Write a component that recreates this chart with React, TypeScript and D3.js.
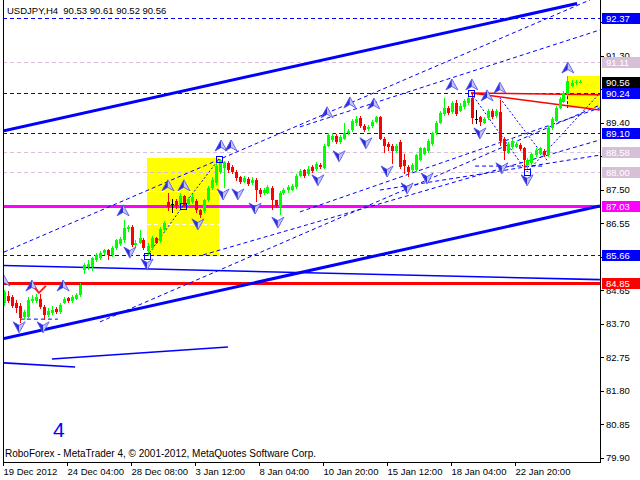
import React from "react";
import * as d3 from "d3";

// USDJPY H4 candles (bar 0 = 19 Dec 2012 00:00)
const opens = [
  84.28, 84.48, 84.45, 84.3, 84.2, 83.9, 83.9, 84.33, 84.34, 84.4, 84.18, 83.95, 84.0, 84.12, 84.02, 84.3, 84.42, 84.34, 84.4, 84.5,
  85.22, 85.3, 85.3, 85.5, 85.56, 85.7, 85.78, 85.66, 85.85, 85.95, 86.06, 86.38, 86.44, 85.92, 86.0, 86.08, 85.76, 85.85, 86.12, 86.05,
  86.35, 87.15, 87.1, 87.19, 87.05, 87.31, 87.1, 87.15, 87.18, 86.92, 86.9, 87.2, 87.56, 87.68, 88.0, 88.12, 88.25, 88.15, 88.0, 87.85,
  87.73, 87.8, 87.68, 87.78, 87.5, 87.4, 87.42, 87.55, 87.2, 87.0, 87.4, 87.48, 87.5, 87.57, 87.9, 88.05, 87.95, 88.15, 88.08, 88.2,
  88.12, 88.75, 88.9, 89.03, 88.85, 88.95, 89.1, 89.2, 89.38, 89.53, 89.3, 89.22, 89.3, 89.42, 89.55, 88.95, 88.8, 88.75, 88.61, 88.85,
  88.33, 88.15, 88.05, 88.05, 88.33, 88.52, 88.61, 88.8, 89.1, 89.4, 89.65, 89.82, 89.7, 89.96, 89.74, 89.85, 89.95, 90.1, 89.5, 89.55,
  89.4, 89.52, 89.74, 89.58, 89.7, 88.95, 88.55, 88.7, 88.72, 88.78, 88.68, 88.2, 88.25, 88.47, 88.52, 88.61, 88.47, 89.25, 89.46, 89.82,
  90.0, 90.2, 90.45, 90.52, 90.53,
];
const highs = [
  84.65, 84.62, 84.5, 84.38, 84.3, 84.1, 84.45, 84.5, 84.55, 84.55, 84.22, 84.15, 84.2, 84.18, 84.3, 84.45, 84.46, 84.5, 84.58, 84.85,
  85.42, 85.5, 85.6, 85.7, 85.75, 85.83, 85.82, 85.9, 86.1, 86.15, 86.65, 86.5, 86.5, 86.08, 86.35, 86.12, 85.98, 86.18, 86.16, 86.45,
  86.6, 87.4, 87.25, 87.25, 87.4, 87.36, 87.3, 87.38, 87.25, 86.95, 87.25, 87.6, 87.85, 88.25, 88.37, 88.3, 88.3, 88.2, 88.05, 87.9,
  87.88, 87.85, 87.85, 87.82, 87.55, 87.55, 87.62, 87.6, 87.22, 87.45, 87.55, 87.62, 87.66, 87.95, 88.1, 88.1, 88.18, 88.2, 88.28, 88.25,
  88.8, 89.12, 89.1, 89.08, 89.05, 89.4, 89.22, 89.5, 89.58, 89.58, 89.35, 89.33, 89.48, 89.6, 89.6, 89.0, 88.85, 88.8, 88.8, 88.9,
  88.5, 88.2, 88.25, 88.5, 88.72, 88.72, 88.95, 89.15, 89.45, 89.72, 90.1, 89.88, 90.02, 90.05, 89.95, 90.08, 90.15, 90.24, 89.75, 89.6,
  89.55, 89.8, 89.78, 89.8, 90.05, 89.0, 88.85, 88.95, 88.85, 88.82, 88.72, 88.4, 88.55, 88.68, 88.72, 88.66, 89.3, 89.55, 89.88, 90.12,
  90.3, 90.73, 90.6, 90.6, 90.61,
];
const lows = [
  84.2, 84.3, 84.15, 84.0, 83.72, 83.8, 83.85, 84.28, 84.3, 84.12, 83.8, 83.9, 83.95, 83.98, 83.98, 84.25, 84.28, 84.3, 84.36, 84.46,
  85.12, 85.22, 85.2, 85.45, 85.52, 85.65, 85.5, 85.6, 85.8, 85.9, 86.0, 86.3, 85.88, 85.86, 85.95, 85.8, 85.62, 85.8, 85.95, 86.0,
  86.3, 86.9, 86.85, 86.95, 87.0, 87.0, 87.05, 87.1, 86.85, 86.7, 86.85, 87.15, 87.5, 87.62, 87.95, 87.55, 87.98, 87.95, 87.75, 87.65,
  87.68, 87.6, 87.62, 87.15, 87.3, 87.35, 87.38, 86.93, 86.98, 86.78, 87.35, 87.42, 87.45, 87.52, 87.85, 87.82, 87.9, 87.98, 88.02, 88.1,
  88.08, 88.7, 88.85, 88.8, 88.8, 88.9, 89.05, 89.15, 89.32, 89.25, 89.15, 89.17, 89.25, 89.38, 88.9, 88.55, 88.6, 88.22, 88.55, 88.1,
  87.95, 87.85, 88.0, 88.0, 88.3, 88.48, 88.55, 88.75, 89.05, 89.35, 89.6, 89.62, 89.65, 89.6, 89.7, 89.8, 89.9, 89.35, 89.35, 89.3,
  89.35, 89.48, 89.5, 89.52, 88.75, 88.33, 88.5, 88.65, 88.68, 88.6, 88.0, 88.1, 88.2, 88.42, 88.48, 88.42, 88.42, 89.2, 89.42, 89.78,
  89.95, 90.15, 90.4, 90.48, 90.52,
];
const closes = [
  84.59, 84.34, 84.2, 84.14, 83.86, 84.02, 84.37, 84.4, 84.45, 84.18, 83.94, 84.06, 84.1, 84.03, 84.23, 84.4, 84.33, 84.45, 84.52, 84.8,
  85.36, 85.38, 85.55, 85.64, 85.7, 85.78, 85.64, 85.85, 86.06, 86.1, 86.4, 86.44, 85.92, 86.0, 86.12, 85.85, 85.9, 86.12, 86.0, 86.38,
  86.55, 87.0, 87.1, 87.05, 87.31, 87.05, 87.25, 87.28, 86.92, 86.78, 87.2, 87.56, 87.78, 88.18, 88.33, 88.28, 88.05, 88.0, 87.82, 87.72,
  87.82, 87.65, 87.78, 87.5, 87.38, 87.5, 87.58, 87.2, 87.05, 87.4, 87.48, 87.58, 87.6, 87.9, 88.04, 87.88, 88.1, 88.04, 88.22, 88.15,
  88.75, 89.06, 89.03, 88.85, 89.0, 89.1, 89.17, 89.46, 89.5, 89.3, 89.2, 89.28, 89.42, 89.55, 88.95, 88.75, 88.7, 88.61, 88.75, 88.15,
  88.18, 88.0, 88.2, 88.47, 88.67, 88.67, 88.89, 89.1, 89.4, 89.68, 89.82, 89.68, 89.96, 89.65, 89.88, 90.02, 90.1, 89.53, 89.5, 89.42,
  89.5, 89.74, 89.55, 89.74, 88.89, 88.61, 88.8, 88.89, 88.8, 88.65, 88.33, 88.35, 88.5, 88.63, 88.67, 88.47, 89.25, 89.5, 89.82, 90.08,
  90.25, 90.59, 90.52, 90.56, 90.56,
];

const symbolTitle = "USDJPY,H4  90.53 90.61 90.52 90.56";
const copyright = "RoboForex - MetaTrader 4, \u00a9 2001-2012, MetaQuotes Software Corp.";
const waveLabel = "4";

const timeLabels = ["19 Dec 2012", "24 Dec 04:00", "28 Dec 08:00", "3 Jan 12:00", "8 Jan 04:00", "10 Jan 20:00", "15 Jan 12:00", "18 Jan 04:00", "22 Jan 20:00"];
const timeLabelBars = [0, 16, 32, 48, 64, 80, 96, 112, 128];
const priceTicks = [79.9, 80.85, 81.8, 82.75, 83.7, 84.65, 85.6, 86.55, 87.5, 88.45, 89.4, 90.35, 91.3, 92.25];

// horizontal levels and the kind of marker each one has
const levelPrices = [92.37, 91.11, 90.24, 89.1, 88.58, 88.0, 87.03, 85.66, 84.85];
const levelKinds = ["blue", "pale", "blue", "blue", "pale", "pale", "magenta", "blue", "red"];
const lastPrice = 90.56;

// trend lines: [bar, price] pairs
const thickLines = [
  [[0.1, 89.17], [143.4, 92.78]],
  [[0.1, 83.28], [149.1, 87.04]],
];
const thinLines = [
  [[0.1, 85.35], [149.1, 84.95]],
  [[0.1, 82.59], [17.9, 82.47]],
  [[12.1, 82.7], [56.1, 83.04]],
];
const channelLines = [
  [[0.1, 85.73], [146.6, 92.88]],
  [[74.1, 89.28], [149.1, 92.03]],
  [[24.1, 83.75], [149.1, 89.9]],
  [[74.1, 86.87], [149.1, 89.82]],
  [[49.9, 85.65], [149.1, 88.91]],
  [[94.1, 87.49], [149.1, 88.48]],
  [[4.1, 83.83], [13.6, 83.83]],
  [[117.9, 88.17], [135.4, 88.17]],
];
const zigzags = [
  [[35.9, 85.62], [44.9, 87.04], [53.9, 88.37]],
  [[116.9, 90.24], [130.9, 88.0], [149.1, 90.24]],
  [[124.1, 90.1], [136.1, 88.3]],
];
const pivotSquares = [[35.9, 85.62], [44.9, 87.04], [53.9, 88.37], [116.9, 90.24], [130.9, 88.0]];
const redLines = [
  [[116.9, 90.24], [149.1, 90.19]],
  [[116.9, 90.24], [149.1, 89.76]],
];
const boxBars = [[35.9, 53.9], [140.9, 150]];
const boxPrices = [[88.4, 85.62], [90.72, 89.82]];
const boxDashes = [[35.9, 53.9, 87.47], [35.9, 53.9, 86.53], [140.9, 150, 90.35]];

const upFractals = [
  [0.1, 84.91], [7.1, 84.77], [14.9, 84.77], [29.9, 86.9], [41.1, 87.61], [45.1, 87.61], [54.4, 88.74], [56.9, 88.74],
  [80.9, 89.68], [86.6, 89.96], [92.6, 89.93], [112.1, 90.47], [117.1, 90.47], [120.9, 90.16], [124.1, 90.38], [141.1, 90.95],
];
const downFractals = [
  [3.9, 83.61], [9.9, 83.61], [31.6, 85.73], [35.9, 85.39], [48.6, 86.53], [54.9, 87.38], [58.6, 87.38], [62.9, 86.98],
  [68.6, 86.58], [78.6, 87.78], [83.9, 88.46], [90.6, 88.83], [95.9, 88.03], [100.9, 87.55], [105.9, 87.83], [119.1, 89.11],
  [124.6, 88.12], [130.9, 87.78],
];
const checkMarks = [[9.1, 84.66]];

const FONT = "'Liberation Sans', Arial, sans-serif";
const LEFT = 3;
const RIGHT = 600;
const BOTTOM = 462;

const kindColor: Record<string, string> = {
  blue: "#0000ff",
  pale: "#d8bfd8",
  magenta: "#ff00ff",
  red: "#ff0000",
};

const App: React.FC = () => {
  const x = d3.scaleLinear().domain([0, 144]).range([3.5, 579.5]);
  const y = d3.scaleLinear().domain([79.9, 89.4]).range([457.7, 122.7]);
  const line = d3
    .line<number[]>()
    .x((d) => x(d[0]))
    .y((d) => y(d[1]));
  const fmt = d3.format(".2f");

  // tick labels that sit under a level box are hidden in the terminal
  const boxYs = [...levelPrices, lastPrice].map((p) => y(p));
  const visibleTicks = priceTicks.filter((p) => boxYs.every((b) => Math.abs(b - y(p)) >= 6));

  const arrow = (cx: number, cy: number, up: boolean, key: string) => {
    const s = up ? 1 : -1;
    const apex = `0,${-6 * s}`;
    const left = `-6,${5 * s}`;
    const notch = `0,${1.5 * s}`;
    const right = `6,${5 * s}`;
    return (
      <g key={key} transform={`translate(${cx},${cy})`}>
        <polygon points={`${apex} ${left} ${notch}`} fill="#2e2ed6" />
        <polygon points={`${apex} ${notch} ${right}`} fill="#c4c4f6" />
        <polygon points={`${apex} ${left} ${notch} ${right}`} fill="none" stroke="#4a4af0" strokeWidth={0.8} />
      </g>
    );
  };

  return (
    <svg width={640} height={480} style={{ position: "fixed", left: 0, top: 0, background: "#fff" }} fontFamily={FONT}>
      <defs>
        <clipPath id="plot">
          <rect x={LEFT + 1} y={0} width={RIGHT - LEFT - 1} height={BOTTOM} />
        </clipPath>
      </defs>

      <g clipPath="url(#plot)">
        {/* yellow boxes */}
        {boxBars.map((b, k) => (
          <rect
            key={`box${k}`}
            x={Math.round(x(b[0]))}
            y={Math.round(y(boxPrices[k][0]))}
            width={Math.round(x(b[1])) - Math.round(x(b[0]))}
            height={Math.round(y(boxPrices[k][1])) - Math.round(y(boxPrices[k][0]))}
            fill="#ffff00"
          />
        ))}
        {boxDashes.map((d, k) => (
          <line key={`bd${k}`} x1={x(d[0])} x2={x(d[1])} y1={Math.round(y(d[2])) + 0.5} y2={Math.round(y(d[2])) + 0.5} stroke="#fff" strokeDasharray="4,3" />
        ))}
        <line x1={Math.round(x(boxBars[1][0])) + 0.5} x2={Math.round(x(boxBars[1][0])) + 0.5} y1={y(boxPrices[1][0])} y2={y(boxPrices[1][1])} stroke="#0000ff" strokeDasharray="3,2" />

        {/* horizontal levels */}
        {levelPrices.map((p, k) => {
          const kind = levelKinds[k];
          const yy = Math.round(y(p)) + 0.5;
          const thick = kind === "magenta" || kind === "red";
          return (
            <line
              key={`lv${k}`}
              x1={LEFT}
              x2={RIGHT}
              y1={yy}
              y2={yy}
              stroke={kindColor[kind]}
              strokeWidth={thick ? 3 : 1}
              strokeDasharray={thick ? undefined : "4,3"}
            />
          );
        })}

        {/* channels */}
        {channelLines.map((l, k) => (
          <path key={`ch${k}`} d={line(l) || ""} fill="none" stroke="#0000ff" strokeDasharray="4,3" />
        ))}
        {zigzags.map((l, k) => (
          <path key={`zz${k}`} d={line(l) || ""} fill="none" stroke="#0000ff" strokeDasharray="2,2" />
        ))}
        {thinLines.map((l, k) => (
          <path key={`tl${k}`} d={line(l) || ""} fill="none" stroke="#0000ff" strokeWidth={1.6} />
        ))}
        {thickLines.map((l, k) => (
          <path key={`tk${k}`} d={line(l) || ""} fill="none" stroke="#0000ff" strokeWidth={3} />
        ))}
        {redLines.map((l, k) => (
          <path key={`rl${k}`} d={line(l) || ""} fill="none" stroke="#ff0000" strokeWidth={1.5} />
        ))}

        {/* candles */}
        {opens.map((o, i) => {
          const c = closes[i];
          const cx = Math.round(x(i));
          const col = c > o ? "#00ff00" : c < o ? "#ff0000" : "#000000";
          const top = Math.round(y(Math.max(o, c)));
          const bot = Math.round(y(Math.min(o, c)));
          return (
            <g key={`c${i}`}>
              <line x1={cx + 0.5} x2={cx + 0.5} y1={Math.round(y(highs[i]))} y2={Math.round(y(lows[i]))} stroke={col} />
              <rect x={cx - 1} y={top} width={3} height={Math.max(1, bot - top)} fill={col} />
            </g>
          );
        })}

        {pivotSquares.map((s, k) => (
          <rect key={`sq${k}`} x={Math.round(x(s[0])) - 2.5} y={Math.round(y(s[1])) - 2.5} width={6} height={6} fill="none" stroke="#0000ff" />
        ))}

        {upFractals.map((f, k) => arrow(x(f[0]), y(f[1]), true, `u${k}`))}
        {downFractals.map((f, k) => arrow(x(f[0]), y(f[1]), false, `d${k}`))}
        {checkMarks.map((m, k) => (
          <path
            key={`ck${k}`}
            transform={`translate(${x(m[0])},${y(m[1])})`}
            d="M-5,-2 L-1,3 L6,-4"
            fill="none"
            stroke="#ff2020"
            strokeWidth={2}
          />
        ))}
      </g>

      {/* frame */}
      <line x1={LEFT + 0.5} x2={LEFT + 0.5} y1={0} y2={BOTTOM + 4} stroke="#000" />
      <line x1={RIGHT + 0.5} x2={RIGHT + 0.5} y1={0} y2={BOTTOM + 1} stroke="#000" />
      <line x1={LEFT} x2={RIGHT + 1} y1={BOTTOM + 0.5} y2={BOTTOM + 0.5} stroke="#000" />

      {/* price axis */}
      {priceTicks.map((p) => {
        const yy = Math.round(y(p)) + 0.5;
        return <line key={`pm${p}`} x1={RIGHT} x2={RIGHT + 4} y1={yy} y2={yy} stroke="#000" />;
      })}
      {visibleTicks.map((p) => (
        <text key={`pt${p}`} x={606} y={y(p) + 3.3} fontSize={9.5} fill="#000">
          {fmt(p)}
        </text>
      ))}
      {levelPrices.map((p, k) => {
        const yy = Math.round(y(p));
        return (
          <g key={`lb${k}`}>
            <rect x={602} y={yy - 5} width={38} height={11} fill={kindColor[levelKinds[k]]} />
            <text x={606} y={yy + 4} fontSize={9.5} fill="#fff">
              {fmt(p)}
            </text>
          </g>
        );
      })}
      <rect x={602} y={Math.round(y(lastPrice)) - 5} width={38} height={11} fill="#000" />
      <text x={606} y={Math.round(y(lastPrice)) + 4} fontSize={9.5} fill="#fff">
        {fmt(lastPrice)}
      </text>

      {/* time axis */}
      {timeLabelBars.map((b, k) => {
        const xx = Math.round(x(b)) - 0.5;
        return (
          <g key={`tt${k}`}>
            <line x1={xx} x2={xx} y1={BOTTOM} y2={BOTTOM + 4} stroke="#000" />
            <text x={xx} y={475} fontSize={9.5} fill="#000">
              {timeLabels[k]}
            </text>
          </g>
        );
      })}

      <text x={7} y={14} fontSize={9.5} fill="#000" style={{ whiteSpace: "pre" }}>
        {symbolTitle}
      </text>
      <text x={5} y={457} fontSize={10} fill="#000">
        {copyright}
      </text>
      <text x={53} y={437} fontSize={21} fill="#0000ff">
        {waveLabel}
      </text>
    </svg>
  );
};

export default App;
